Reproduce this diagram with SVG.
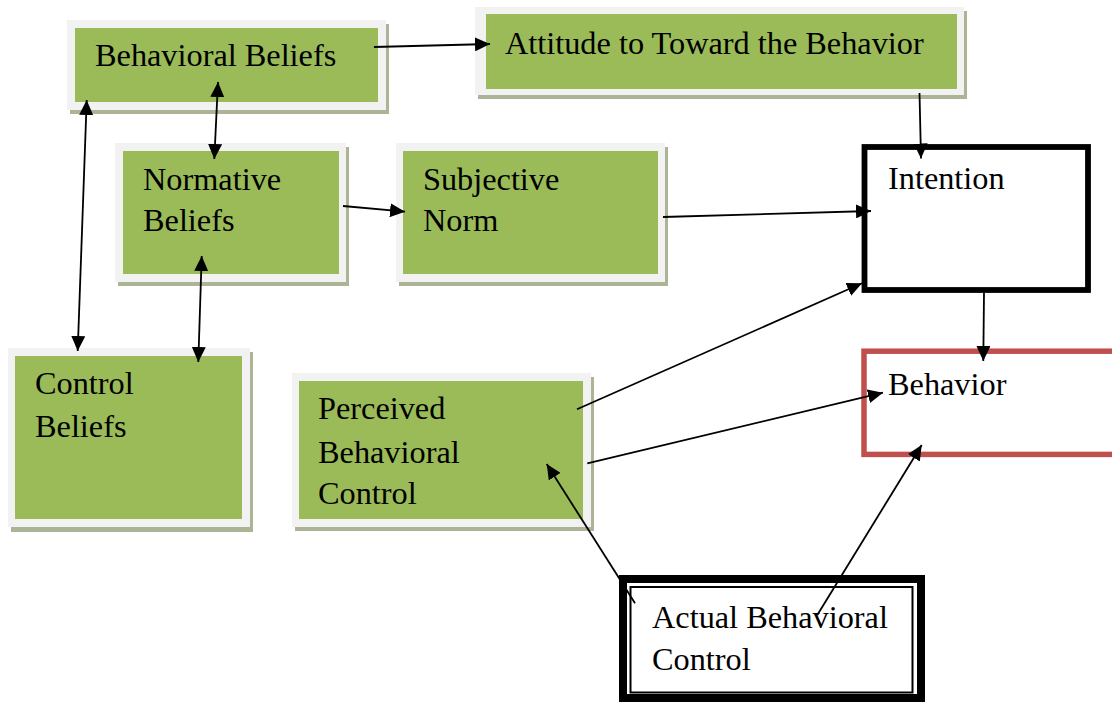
<svg xmlns="http://www.w3.org/2000/svg" width="1112" height="702" viewBox="0 0 1112 702">
<defs>
<marker id="ah" markerUnits="userSpaceOnUse" markerWidth="16" markerHeight="14" refX="15" refY="7" orient="auto-start-reverse">
<path d="M0,0 L15,7 L0,14 z" fill="#000"/>
</marker>
</defs>
<style>
.sh{fill:#abb495}
.out{fill:#f2f2f2}
.grn{fill:#9bbb59}
.t{font-family:"Liberation Serif","Times New Roman",serif;font-size:32.3px;fill:#000}
.c{fill:none;stroke:#000;stroke-width:1.8;marker-end:url(#ah)}
.cc{fill:none;stroke:#000;stroke-width:1.8;marker-end:url(#ah);marker-start:url(#ah)}
</style>
<rect width="1112" height="702" fill="#fff"/>

<g id="behavioral-beliefs">
<rect class="sh" x="70" y="24" width="319" height="90"/>
<rect class="out" x="67" y="20" width="319" height="90"/>
<rect class="grn" x="75" y="28" width="303" height="74"/>
<text class="t" x="95" y="66">Behavioral Beliefs</text>
</g>

<g id="attitude">
<rect class="sh" x="478" y="11" width="489" height="88"/>
<rect class="out" x="475" y="7" width="489" height="88"/>
<rect class="grn" x="486" y="14" width="471" height="75"/>
<text class="t" x="505" y="54">Attitude to Toward the Behavior</text>
</g>

<g id="normative-beliefs">
<rect class="sh" x="118" y="147" width="231" height="139"/>
<rect class="out" x="115" y="143" width="231" height="139"/>
<rect class="grn" x="123" y="151" width="216" height="123"/>
<text class="t" x="143" y="190">Normative</text>
<text class="t" x="143" y="231">Beliefs</text>
</g>

<g id="subjective-norm">
<rect class="sh" x="399" y="147" width="269" height="139"/>
<rect class="out" x="396" y="143" width="269" height="139"/>
<rect class="grn" x="403" y="151" width="255" height="123"/>
<text class="t" x="423" y="190">Subjective</text>
<text class="t" x="423" y="231">Norm</text>
</g>

<g id="control-beliefs">
<rect class="sh" x="11" y="352" width="242" height="180"/>
<rect class="out" x="8" y="348" width="242" height="179"/>
<rect class="grn" x="15" y="356" width="227" height="163"/>
<text class="t" x="35" y="394">Control</text>
<text class="t" x="35" y="437">Beliefs</text>
</g>

<g id="perceived-behavioral-control">
<rect class="sh" x="295" y="377" width="299" height="154"/>
<rect class="out" x="292" y="373" width="299" height="154"/>
<rect class="grn" x="299" y="381" width="284" height="138"/>
<text class="t" x="318" y="419">Perceived</text>
<text class="t" x="318" y="463">Behavioral</text>
<text class="t" x="318" y="504">Control</text>
</g>

<g id="intention">
<rect x="864.5" y="147" width="223.5" height="143" fill="#fff" stroke="#000" stroke-width="5.8"/>
<text class="t" x="888" y="189">Intention</text>
</g>

<g id="behavior">
<rect x="864" y="351.2" width="300" height="103.2" fill="#fff" stroke="#c0504d" stroke-width="5.5"/>
<text class="t" x="888" y="395">Behavior</text>
</g>

<g id="actual-behavioral-control">
<rect x="623" y="579" width="298" height="119" fill="#fff" stroke="#000" stroke-width="8"/>
<rect x="630.5" y="587" width="282" height="105.5" fill="none" stroke="#000" stroke-width="2"/>
<text class="t" x="652" y="628">Actual Behavioral</text>
<text class="t" x="652" y="670">Control</text>
</g>

<g id="connectors">
<line class="c" x1="374" y1="47" x2="490" y2="44"/>
<line class="cc" x1="218" y1="82" x2="214.3" y2="159"/>
<line class="cc" x1="86.7" y1="100" x2="77.7" y2="351"/>
<line class="cc" x1="201.7" y1="256" x2="198.3" y2="362"/>
<line class="c" x1="343" y1="206" x2="405" y2="211.7"/>
<line class="c" x1="663" y1="217" x2="871" y2="211"/>
<line class="c" x1="919.5" y1="93" x2="921" y2="158.5"/>
<line class="c" x1="984" y1="293" x2="983.3" y2="361"/>
<line class="c" x1="577" y1="409.3" x2="862" y2="283.3"/>
<line class="c" x1="587.3" y1="463.3" x2="883" y2="392.7"/>
<line class="c" x1="635" y1="603.3" x2="546.7" y2="464"/>
<line class="c" x1="817.3" y1="615" x2="921.7" y2="445"/>
</g>
</svg>
